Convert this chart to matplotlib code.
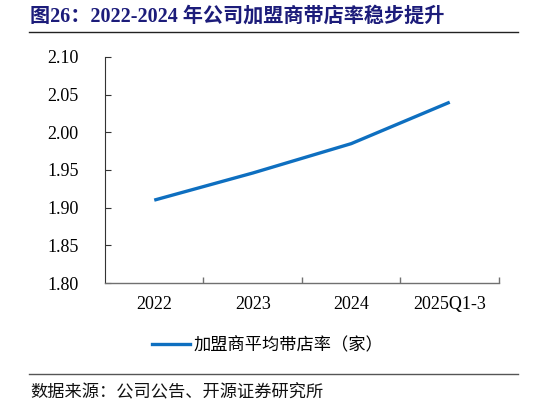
import matplotlib.pyplot as plt
from matplotlib.lines import Line2D

plt.rcParams["font.family"] = ["Liberation Serif", "Noto Sans CJK SC", "DejaVu Sans"]
plt.rcParams["axes.unicode_minus"] = False

categories = ["2022", "2023", "2024", "2025Q1-3"]
stores_per_franchisee = [1.91, 1.946, 1.985, 2.04]
y_ticks = [1.80, 1.85, 1.90, 1.95, 2.00, 2.05, 2.10]

TITLE = "图26：2022-2024 年公司加盟商带店率稳步提升"
SERIES = "加盟商平均带店率（家）"
SOURCE = "数据来源：公司公告、开源证券研究所"

NAVY = "#1C1C7A"
BLUE = "#0E6FC0"
AXIS = "#707070"

fig = plt.figure(figsize=(5.46, 4.05), dpi=100)
ax = fig.add_axes([0.1923, 0.3012, 0.7216, 0.5581])

x = list(range(len(categories)))
ax.plot(x, stores_per_franchisee, color=BLUE, lw=2.4, solid_capstyle="butt")

ax.set_xlim(-0.5, len(categories) - 0.5)
ax.set_ylim(y_ticks[0], y_ticks[-1])
ax.set_yticks(y_ticks)
ax.set_yticklabels([f"{v:.2f}" for v in y_ticks])
ax.set_xticks(x)
ax.set_xticklabels(categories)
ax.set_xticks([i + 0.5 for i in x], minor=True)

ax.tick_params(axis="x", which="major", length=0, pad=9, labelsize=13)
ax.tick_params(axis="x", which="minor", direction="in", length=4, color=AXIS, width=1)
ax.tick_params(axis="y", direction="in", length=4, color="#333333", width=0.8,
               pad=19, labelsize=13)

for side in ("top", "right"):
    ax.spines[side].set_visible(False)
ax.spines["left"].set_color("#333333")
ax.spines["left"].set_linewidth(0.8)
ax.spines["bottom"].set_color(AXIS)
ax.spines["bottom"].set_linewidth(1.0)

handle = Line2D([], [], color=BLUE, lw=2.4)
fig.legend([handle], [SERIES], loc="center", bbox_to_anchor=(268 / 546, 1 - 345 / 405),
           frameon=False, handlelength=2.2, handletextpad=0.2,
           prop={"family": ["Noto Sans CJK SC"], "size": 12.4})

fig.text(0.055, 0.958, TITLE, ha="left", va="center", fontsize=14.5,
         fontweight="bold", color=NAVY)
fig.add_artist(Line2D([0.053, 0.949], [0.922, 0.922], color="#222222", lw=1.0))
fig.add_artist(Line2D([0.053, 0.949], [0.0765, 0.0765], color="#555555", lw=1.0))
fig.text(0.055, 0.03, SOURCE, ha="left", va="center", fontsize=12.4,
         family=["Noto Sans CJK SC"], color="#111111")

fig.savefig("out.png", dpi=100, facecolor="white")
